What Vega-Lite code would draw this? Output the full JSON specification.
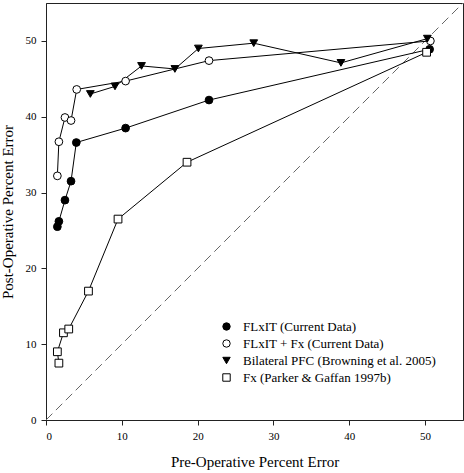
{
  "$schema": "https://vega.github.io/schema/vega-lite/v6.json",
  "width": 417,
  "height": 417,
  "autosize": {"type": "none"},
  "padding": {"left": 46, "top": 3, "right": 1, "bottom": 53},
  "background": "white",
  "config": {
    "font": "Liberation Serif",
    "view": {"stroke": "#222", "strokeWidth": 1},
    "axis": {
      "grid": false,
      "domainColor": "#222",
      "tickColor": "#222",
      "tickSize": 5,
      "labelFont": "Liberation Serif",
      "labelFontSize": 11,
      "labelColor": "black",
      "titleFont": "Liberation Serif",
      "titleFontSize": 15,
      "titleFontWeight": "normal",
      "titleColor": "black"
    },
    "legend": {
      "orient": "none",
      "legendX": 174,
      "legendY": 317,
      "padding": 0,
      "rowPadding": 3,
      "labelFont": "Liberation Serif",
      "labelFontSize": 13,
      "labelColor": "black",
      "labelLimit": 400,
      "labelOffset": 10,
      "symbolSize": 55,
      "symbolStrokeWidth": 1,
      "title": null
    }
  },
  "datasets": {
    "pts": [
      {"series": "FLxIT (Current Data)", "k": 1, "pre": 1.5, "post": 25.5},
      {"series": "FLxIT (Current Data)", "k": 2, "pre": 1.7, "post": 26.2},
      {"series": "FLxIT (Current Data)", "k": 3, "pre": 2.5, "post": 29.0},
      {"series": "FLxIT (Current Data)", "k": 4, "pre": 3.3, "post": 31.5},
      {"series": "FLxIT (Current Data)", "k": 5, "pre": 4.0, "post": 36.6},
      {"series": "FLxIT (Current Data)", "k": 6, "pre": 10.5, "post": 38.5},
      {"series": "FLxIT (Current Data)", "k": 7, "pre": 21.5, "post": 42.2},
      {"series": "FLxIT (Current Data)", "k": 8, "pre": 50.6, "post": 48.9},
      {"series": "FLxIT + Fx (Current Data)", "k": 1, "pre": 1.5, "post": 32.2},
      {"series": "FLxIT + Fx (Current Data)", "k": 2, "pre": 1.7, "post": 36.7},
      {"series": "FLxIT + Fx (Current Data)", "k": 3, "pre": 2.5, "post": 39.9},
      {"series": "FLxIT + Fx (Current Data)", "k": 4, "pre": 3.3, "post": 39.5},
      {"series": "FLxIT + Fx (Current Data)", "k": 5, "pre": 4.05, "post": 43.6},
      {"series": "FLxIT + Fx (Current Data)", "k": 6, "pre": 10.5, "post": 44.7},
      {"series": "FLxIT + Fx (Current Data)", "k": 7, "pre": 21.5, "post": 47.4},
      {"series": "FLxIT + Fx (Current Data)", "k": 8, "pre": 50.7, "post": 50.0},
      {"series": "Bilateral PFC (Browning et al. 2005)", "k": 1, "pre": 5.85, "post": 43.0},
      {"series": "Bilateral PFC (Browning et al. 2005)", "k": 2, "pre": 9.1, "post": 44.0},
      {"series": "Bilateral PFC (Browning et al. 2005)", "k": 3, "pre": 12.6, "post": 46.7},
      {"series": "Bilateral PFC (Browning et al. 2005)", "k": 4, "pre": 17.0, "post": 46.3},
      {"series": "Bilateral PFC (Browning et al. 2005)", "k": 5, "pre": 20.1, "post": 49.0},
      {"series": "Bilateral PFC (Browning et al. 2005)", "k": 6, "pre": 27.4, "post": 49.7},
      {"series": "Bilateral PFC (Browning et al. 2005)", "k": 7, "pre": 38.9, "post": 47.1},
      {"series": "Bilateral PFC (Browning et al. 2005)", "k": 8, "pre": 50.3, "post": 50.3},
      {"series": "Fx (Parker & Gaffan 1997b)", "k": 1, "pre": 1.7, "post": 7.5},
      {"series": "Fx (Parker & Gaffan 1997b)", "k": 2, "pre": 1.5, "post": 9.0},
      {"series": "Fx (Parker & Gaffan 1997b)", "k": 3, "pre": 2.3, "post": 11.5},
      {"series": "Fx (Parker & Gaffan 1997b)", "k": 4, "pre": 3.0, "post": 12.0},
      {"series": "Fx (Parker & Gaffan 1997b)", "k": 5, "pre": 5.6, "post": 17.0},
      {"series": "Fx (Parker & Gaffan 1997b)", "k": 6, "pre": 9.5, "post": 26.5},
      {"series": "Fx (Parker & Gaffan 1997b)", "k": 7, "pre": 18.6, "post": 34.0},
      {"series": "Fx (Parker & Gaffan 1997b)", "k": 8, "pre": 50.2, "post": 48.5}
    ],
    "diag": [
      {"pre": 0, "post": 0},
      {"pre": 55, "post": 55}
    ]
  },
  "layer": [
    {
      "data": {"name": "diag"},
      "mark": {"type": "line", "color": "#666", "strokeWidth": 1, "strokeDash": [9, 5], "clip": true},
      "encoding": {
        "x": {"field": "pre", "type": "quantitative"},
        "y": {"field": "post", "type": "quantitative"}
      }
    },
    {
      "data": {"name": "pts"},
      "mark": {"type": "line", "color": "black", "strokeWidth": 1},
      "encoding": {
        "x": {"field": "pre", "type": "quantitative"},
        "y": {"field": "post", "type": "quantitative"},
        "detail": {"field": "series", "type": "nominal"},
        "order": {"field": "k", "type": "quantitative"}
      }
    },
    {
      "data": {"name": "pts"},
      "mark": {"type": "point", "filled": true, "strokeWidth": 1, "size": 60, "opacity": 1},
      "encoding": {
        "x": {
          "field": "pre",
          "type": "quantitative",
          "scale": {"domain": [0, 55], "nice": false},
          "axis": {"values": [0, 10, 20, 30, 40, 50], "title": "Pre-Operative Percent Error", "labelPadding": 5, "titleY": 46, "titleBaseline": "alphabetic"}
        },
        "y": {
          "field": "post",
          "type": "quantitative",
          "scale": {"domain": [0, 55], "nice": false},
          "axis": {"values": [0, 10, 20, 30, 40, 50], "title": "Post-Operative Percent Error", "labelPadding": 5, "titleX": -34, "titleBaseline": "alphabetic"}
        },
        "shape": {
          "field": "series",
          "type": "nominal",
          "scale": {
            "domain": ["FLxIT (Current Data)", "FLxIT + Fx (Current Data)", "Bilateral PFC (Browning et al. 2005)", "Fx (Parker & Gaffan 1997b)"],
            "range": ["circle", "circle", "triangle-down", "square"]
          }
        },
        "fill": {
          "field": "series",
          "type": "nominal",
          "scale": {
            "domain": ["FLxIT (Current Data)", "FLxIT + Fx (Current Data)", "Bilateral PFC (Browning et al. 2005)", "Fx (Parker & Gaffan 1997b)"],
            "range": ["black", "white", "black", "white"]
          }
        },
        "stroke": {
          "field": "series",
          "type": "nominal",
          "scale": {
            "domain": ["FLxIT (Current Data)", "FLxIT + Fx (Current Data)", "Bilateral PFC (Browning et al. 2005)", "Fx (Parker & Gaffan 1997b)"],
            "range": ["black", "black", "black", "black"]
          }
        }
      }
    }
  ]
}
